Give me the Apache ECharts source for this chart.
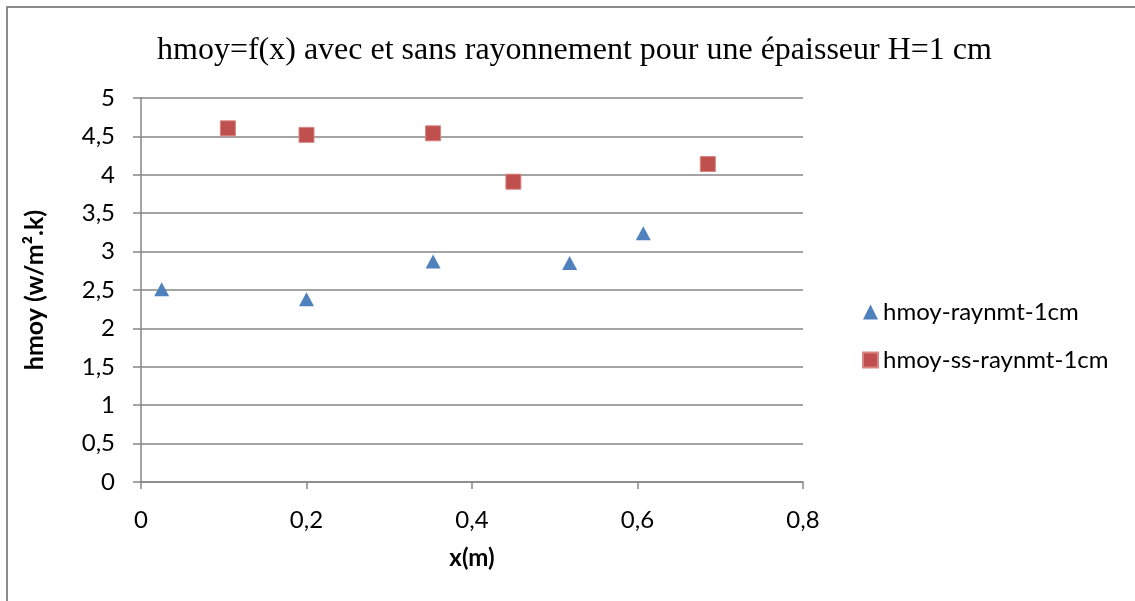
<!DOCTYPE html>
<html>
<head>
<meta charset="utf-8">
<script src="https://cdn.jsdelivr.net/npm/echarts@6/dist/echarts.min.js"></script>
<style>
html,body{margin:0;padding:0;background:#fff;}
#chart{width:1135px;height:601px;}
</style>
</head>
<body>
<div id="chart"></div>
<script>
const titleText = "hmoy=f(x) avec et sans rayonnement pour une épaisseur H=1 cm";
const xAxisName = "x(m)";
const yAxisName = "hmoy (w/m².k)";
const seriesNames = ["hmoy-raynmt-1cm", "hmoy-ss-raynmt-1cm"];
const xRaynmt = [0.025, 0.2, 0.353, 0.518, 0.607];
const yRaynmt = [2.51, 2.38, 2.87, 2.85, 3.24];
const xSsRaynmt = [0.105, 0.2, 0.353, 0.45, 0.685];
const ySsRaynmt = [4.605, 4.52, 4.54, 3.91, 4.14];

const pairs = (xs, ys) => xs.map((x, i) => [x, ys[i]]);
const fmt = v => String(Math.round(v * 10) / 10).replace('.', ',');
const lab = "Lato, 'Open Sans', sans-serif";

const chart = echarts.init(document.getElementById('chart'));
chart.setOption({
  animation: false,
  backgroundColor: '#fff',
  graphic: [{
    type: 'rect', shape: {x: 7, y: 7, width: 1300, height: 800},
    style: {fill: 'none', stroke: '#8a8a8a', lineWidth: 2}, silent: true, z: -1
  }],
  title: {
    text: titleText, left: 152, top: 30,
    textStyle: {fontFamily: "'Liberation Serif', 'Times New Roman', serif", fontSize: 32, fontWeight: 'normal', color: '#000'}
  },
  grid: {left: 141, right: 332, top: 98, bottom: 119},
  legend: {
    orient: 'vertical', left: 857, top: 295, itemGap: 24,
    itemWidth: 15, itemHeight: 15,
    textStyle: {fontFamily: lab, fontSize: 24, color: '#000'},
    data: [
      {name: seriesNames[0], icon: 'triangle'},
      {name: seriesNames[1], icon: 'rect'}
    ]
  },
  xAxis: {
    type: 'value', min: 0, max: 0.8, interval: 0.2,
    name: xAxisName, nameLocation: 'middle', nameGap: 64,
    nameTextStyle: {fontFamily: lab, fontSize: 24, fontWeight: 'bold', color: '#000'},
    axisLine: {show: true, onZero: false, lineStyle: {color: '#868686', width: 1.5}},
    axisTick: {show: true, length: 7, lineStyle: {color: '#868686', width: 1.5}},
    axisLabel: {margin: 26, fontFamily: lab, fontSize: 24, color: '#000', formatter: fmt},
    splitLine: {show: false}
  },
  yAxis: {
    type: 'value', min: 0, max: 5, interval: 0.5,
    name: yAxisName, nameLocation: 'middle', nameGap: 94, nameRotate: 90,
    nameTextStyle: {fontFamily: lab, fontSize: 25, fontWeight: 'bold', color: '#000'},
    axisLine: {show: true, lineStyle: {color: '#868686', width: 1.5}},
    axisTick: {show: true, length: 8, lineStyle: {color: '#868686', width: 1.5}},
    axisLabel: {margin: 26, fontFamily: lab, fontSize: 24, color: '#000', formatter: fmt},
    splitLine: {show: true, lineStyle: {color: '#868686', width: 1.5}}
  },
  series: [
    {
      name: seriesNames[0], type: 'scatter', symbol: 'triangle', symbolSize: [15, 14],
      itemStyle: {color: '#4F81BD', opacity: 1},
      data: pairs(xRaynmt, yRaynmt)
    },
    {
      name: seriesNames[1], type: 'scatter', symbol: 'rect', symbolSize: 15,
      itemStyle: {color: '#C0504D', borderColor: '#D88583', borderWidth: 1, opacity: 1},
      data: pairs(xSsRaynmt, ySsRaynmt)
    }
  ]
});
</script>
</body>
</html>
